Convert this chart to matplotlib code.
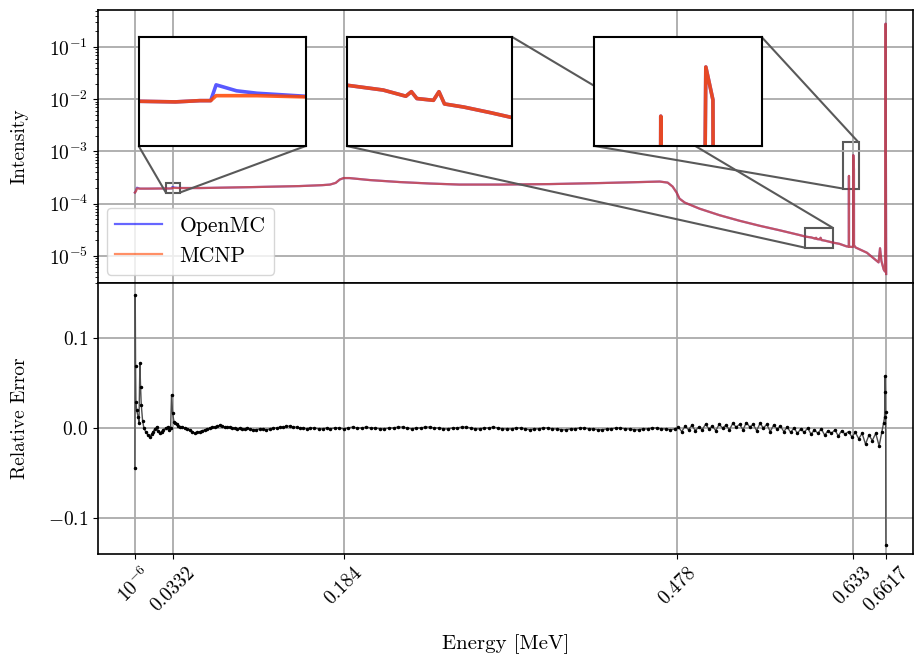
import matplotlib
matplotlib.use("Agg")
import matplotlib.pyplot as plt
from mpl_toolkits.axes_grid1.inset_locator import mark_inset

plt.rcParams.update({
    "font.family": "serif",
    "font.serif": ["cmr10"],
    "mathtext.fontset": "cm",
    "axes.formatter.use_mathtext": True,
    "font.size": 14,
    "axes.unicode_minus": True,
})

# spectrum (MeV, intensity)
energy = [0.000001, 0.0009, 0.0018, 0.0044, 0.012, 0.022, 0.0273, 0.0300, 0.0318,
          0.0326, 0.0330, 0.0336, 0.0345, 0.0360, 0.0396, 0.0573, 0.101, 0.145,
          0.165, 0.172, 0.177, 0.1806, 0.184, 0.189, 0.207, 0.2335, 0.26, 0.286,
          0.3216, 0.3656, 0.41, 0.445, 0.4626, 0.4696, 0.474, 0.4775, 0.480,
          0.4846, 0.4978, 0.5154, 0.533, 0.5507, 0.5683, 0.586, 0.591, 0.5963,
          0.5996, 0.6004, 0.6012, 0.6036, 0.6044, 0.6052, 0.608, 0.612, 0.615,
          0.621, 0.6273, 0.62935, 0.6294, 0.62945, 0.6322, 0.63305, 0.6332,
          0.6338, 0.63385, 0.6352, 0.6452, 0.6555, 0.6568, 0.6580, 0.6600,
          0.6612, 0.6617, 0.6622]
mcnp = [1.63e-4, 1.72e-4, 1.96e-4, 1.94e-4, 1.94e-4, 1.95e-4, 1.955e-4, 1.95e-4, 1.96e-4,
        1.96e-4, 2.0e-4, 2.0e-4, 2.0e-4, 2.0e-4, 1.99e-4, 1.99e-4, 2.07e-4, 2.17e-4,
        2.26e-4, 2.32e-4, 2.5e-4, 2.9e-4, 3.09e-4, 3.09e-4, 2.83e-4, 2.59e-4, 2.43e-4, 2.32e-4,
        2.32e-4, 2.37e-4, 2.48e-4, 2.59e-4, 2.65e-4, 2.53e-4, 2.12e-4, 1.63e-4, 1.25e-4,
        1.05e-4, 8.0e-5, 6.0e-5, 4.7e-5, 3.77e-5, 3.09e-5, 2.5e-5, 2.34e-5, 2.25e-5,
        2.14e-5, 2.22e-5, 2.1e-5, 2.07e-5, 2.22e-5, 2.01e-5, 1.96e-5, 1.87e-5, 1.8e-5,
        1.7e-5, 1.52e-5, 1.5e-5, 3.4e-4, 1.5e-5, 1.48e-5, 1.5e-5, 8.5e-4,
        4.6e-4, 1.6e-5, 1.45e-5, 1.15e-5, 7.5e-6, 1.4e-5, 8.0e-6, 5.5e-6,
        5.0e-6, 0.28, 4.5e-6]
openmc = [1.63e-4, 1.75e-4, 2.02e-4, 1.94e-4, 1.94e-4, 1.95e-4, 1.955e-4, 1.95e-4, 1.96e-4,
          1.96e-4, 2.09e-4, 2.07e-4, 2.04e-4, 2.02e-4, 1.995e-4, 1.99e-4, 2.07e-4, 2.17e-4,
          2.26e-4, 2.32e-4, 2.5e-4, 2.9e-4, 3.09e-4, 3.09e-4, 2.83e-4, 2.59e-4, 2.43e-4, 2.32e-4,
          2.32e-4, 2.37e-4, 2.48e-4, 2.59e-4, 2.65e-4, 2.53e-4, 2.12e-4, 1.63e-4, 1.25e-4,
          1.05e-4, 8.0e-5, 6.0e-5, 4.7e-5, 3.77e-5, 3.09e-5, 2.5e-5, 2.34e-5, 2.25e-5,
          2.14e-5, 2.22e-5, 2.1e-5, 2.07e-5, 2.22e-5, 2.01e-5, 1.96e-5, 1.87e-5, 1.8e-5,
          1.7e-5, 1.52e-5, 1.5e-5, 3.4e-4, 1.5e-5, 1.48e-5, 1.5e-5, 8.5e-4,
          4.6e-4, 1.6e-5, 1.45e-5, 1.15e-5, 7.5e-6, 1.4e-5, 8.0e-6, 5.5e-6,
          5.0e-6, 0.28, 4.5e-6]

# relative error (OpenMC vs MCNP)
err_energy = [0.000001, 0.0003, 0.0006, 0.0009, 0.0015, 0.0029, 0.0036, 0.0044, 0.0050,
              0.0056, 0.0068, 0.0079, 0.0098, 0.0117, 0.0132, 0.0147, 0.0161, 0.0176,
              0.0191, 0.0205, 0.0220, 0.0235, 0.0249, 0.0271, 0.0293, 0.0305, 0.0315,
              0.0323, 0.0332, 0.0344, 0.0356, 0.0367, 0.0383, 0.0396, 0.0418, 0.0440,
              0.0463, 0.0485, 0.0507, 0.0529, 0.0551, 0.0573, 0.0595, 0.0617, 0.0639,
              0.0661, 0.0683, 0.0705, 0.0727, 0.0749, 0.0771, 0.0793, 0.0815, 0.0837,
              0.0859, 0.0881, 0.0903, 0.0925, 0.0947, 0.0969, 0.0991, 0.1013, 0.104,
              0.107, 0.110, 0.113, 0.116, 0.119, 0.122, 0.125, 0.128, 0.1307, 0.1336,
              0.1366, 0.1395, 0.1425, 0.1452, 0.148, 0.1513, 0.1546, 0.158, 0.162, 0.166,
              0.169, 0.172, 0.176, 0.180, 0.184, 0.188, 0.192, 0.196, 0.200, 0.204,
              0.208, 0.212, 0.216, 0.220, 0.224, 0.228, 0.232, 0.236, 0.240, 0.244,
              0.248, 0.252, 0.256, 0.260, 0.264, 0.268, 0.272, 0.276, 0.280, 0.284,
              0.288, 0.292, 0.296, 0.300, 0.304, 0.308, 0.312, 0.316, 0.320, 0.324,
              0.328, 0.332, 0.336, 0.340, 0.344, 0.348, 0.352, 0.356, 0.360, 0.364,
              0.368, 0.372, 0.376, 0.380, 0.384, 0.388, 0.392, 0.396, 0.400, 0.404,
              0.408, 0.412, 0.416, 0.420, 0.424, 0.428, 0.432, 0.436, 0.440, 0.444,
              0.448, 0.452, 0.456, 0.460, 0.464, 0.468, 0.472, 0.476,
              0.479, 0.482, 0.485, 0.488, 0.491, 0.494, 0.497, 0.500, 0.503, 0.506,
              0.509, 0.512, 0.515, 0.518, 0.521, 0.524, 0.527, 0.530, 0.533, 0.536,
              0.539, 0.542, 0.545, 0.548, 0.551, 0.554, 0.557, 0.560, 0.563, 0.566,
              0.569, 0.572, 0.575, 0.578, 0.581, 0.584, 0.587, 0.590, 0.593, 0.596,
              0.599, 0.602, 0.605, 0.608, 0.611, 0.614, 0.617, 0.620, 0.623, 0.626,
              0.629, 0.632, 0.635, 0.638, 0.641, 0.644, 0.647, 0.650, 0.653, 0.656,
              0.6585, 0.6600, 0.6608, 0.6613, 0.6616, 0.6617, 0.6620]
rel_error = [-0.045, 0.148, 0.069, 0.029, 0.020, 0.012, 0.006, 0.072, 0.046,
             0.026, 0.008, 0.000, -0.005, -0.008, -0.010, -0.007, -0.004, -0.001,
             0.001, -0.003, -0.006, -0.004, -0.002, 0.000, 0.001, -0.002, 0.000,
             0.037, 0.017, 0.007, 0.005, 0.004, 0.002, 0.001, 0.001, 0.000,
             -0.001, -0.002, -0.004, -0.006, -0.005, -0.004, -0.003, -0.002, -0.001,
             0.000, 0.001, 0.001, 0.002, 0.003, 0.002, 0.001, 0.001, 0.001,
             0.000, 0.000, -0.001, 0.000, -0.001, -0.001, 0.000, -0.001, -0.002,
             -0.002, -0.001, -0.001, -0.002, -0.001, 0.000, 0.000, 0.001, 0.001, 0.002,
             0.002, 0.001, 0.001, 0.000, 0.000, -0.001, 0.000, 0.000, -0.001, -0.001,
             0.000, -0.001, 0.000, 0.000, -0.001, 0.000, 0.001, 0.000, 0.000, 0.001,
             0.000, 0.000, -0.001, -0.001, 0.000, 0.000, 0.001, 0.001, 0.000, -0.001,
             0.000, 0.000, 0.001, 0.001, 0.000, 0.000, -0.001, -0.001, 0.000, 0.000,
             0.001, 0.001, 0.000, -0.001, -0.001, 0.000, 0.000, 0.001, 0.000, -0.001,
             -0.001, -0.001, 0.000, 0.000, -0.001, -0.002, -0.001, -0.001, 0.000, 0.000,
             -0.001, -0.001, -0.002, -0.002, -0.001, -0.001, 0.000, 0.000, -0.001, -0.001,
             -0.002, -0.002, -0.001, -0.001, 0.000, 0.000, -0.001, -0.001, -0.002, -0.002,
             -0.001, -0.001, 0.000, 0.000, -0.001, -0.001, -0.002, -0.001,
             0.001, -0.004, 0.002, -0.002, 0.003, -0.003, 0.001, -0.002, 0.004, -0.001,
             0.002, -0.003, 0.004, 0.000, 0.003, -0.002, 0.005, 0.001, 0.004, -0.002,
             0.006, 0.001, 0.004, -0.003, 0.005, 0.000, 0.004, -0.004, 0.003, -0.001,
             0.002, -0.004, 0.001, -0.005, 0.000, -0.006, -0.001, -0.005, 0.000, -0.007,
             -0.002, -0.006, -0.001, -0.008, -0.003, -0.006, -0.002, -0.009, -0.003, -0.007,
             -0.004, -0.010, -0.005, -0.012, -0.006, -0.018, -0.008, -0.014, -0.006, -0.020,
             -0.004, 0.006, 0.012, 0.058, 0.040, 0.018, -0.130]

tick_pos = [0.000001, 0.0332, 0.184, 0.478, 0.633, 0.6617]
tick_labels = ["$10^{-6}$", "0.0332", "0.184", "0.478", "0.633", "0.6617"]

fig = plt.figure(figsize=(9.15, 6.57), dpi=100)
ax1 = fig.add_axes([0.107, 0.569, 0.891, 0.416])
ax2 = fig.add_axes([0.107, 0.157, 0.891, 0.412], sharex=ax1)

ax1.plot(energy, openmc, color="blue", alpha=0.6, lw=1.6, label="OpenMC")
ax1.plot(energy, mcnp, color="orangered", alpha=0.6, lw=1.6, label="MCNP")
ax1.set_yscale("log")
ax1.set_ylim(3e-6, 0.515)
ax1.set_xlim(-0.0326, 0.686)
ax1.set_ylabel("Intensity")
ax1.yaxis.set_label_coords(-0.085, 0.5)
ax1.grid(True, which="major", color="#aaaaaa", lw=1.3)
ax1.tick_params(labelbottom=False)
ax1.legend(loc="lower left", borderaxespad=0.4, fontsize=15.5, handlelength=2.2)

# zoom windows: position in ax1, x range, y range, corners
zooms = [([0.050, 0.502, 0.205, 0.399], (0.0273, 0.0396), (1.63e-4, 2.54e-4), (3, 4)),
         ([0.305, 0.502, 0.203, 0.399], (0.591, 0.615), (1.43e-5, 3.46e-5), (3, 1)),
         ([0.609, 0.502, 0.205, 0.399], (0.6238, 0.6379), (1.95e-4, 1.49e-3), (3, 1))]
for pos, xr, yr, corners in zooms:
    axins = ax1.inset_axes(pos)
    axins.plot(energy, openmc, color="blue", alpha=0.65, lw=2.6)
    axins.plot(energy, mcnp, color="orangered", alpha=0.85, lw=2.6)
    axins.set_yscale("log")
    axins.set_xlim(*xr)
    axins.set_ylim(*yr)
    axins.tick_params(which="both", left=False, bottom=False, labelleft=False, labelbottom=False)
    for s in axins.spines.values():
        s.set_linewidth(1.5)
    mark_inset(ax1, axins, loc1=corners[0], loc2=corners[1], fc="none", ec="0.35", lw=1.5)

ax2.plot(err_energy, rel_error, color="0.3", lw=1.0, marker=".", ms=3, mfc="k", mec="k")
ax2.set_ylim(-0.14, 0.161)
ax2.set_yticks([-0.1, 0.0, 0.1])
ax2.set_ylabel("Relative Error")
ax2.yaxis.set_label_coords(-0.085, 0.5)
ax2.set_xlabel("Energy [MeV]", fontsize=15, labelpad=14)
ax2.grid(True, color="#aaaaaa", lw=1.3)
ax2.set_xticks(tick_pos)
ax2.set_xticklabels(tick_labels, rotation=45)

for a in (ax1, ax2):
    for s in a.spines.values():
        s.set_linewidth(1.2)

fig.savefig("out.png", dpi=100)
